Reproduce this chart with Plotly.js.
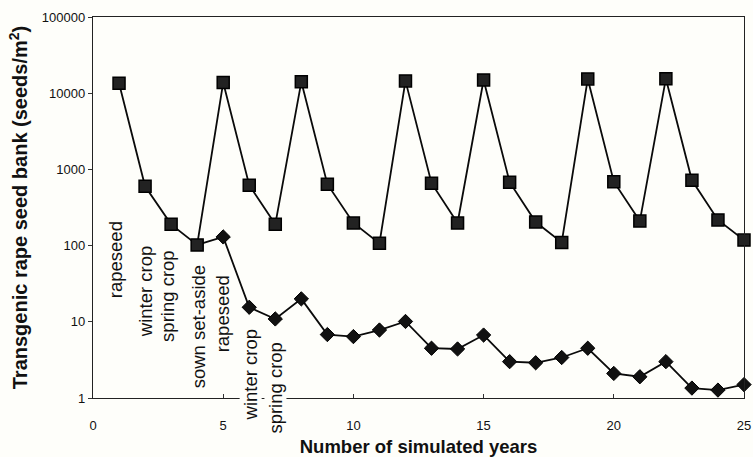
<!DOCTYPE html>
<html>
<head>
<meta charset="utf-8">
<script src="https://cdn.plot.ly/plotly-3.0.1.min.js"></script>
<style>html,body{margin:0;padding:0;background:#fefefa;}#chart{width:753px;height:457px;}</style>
</head>
<body>
<div id="chart"></div>
<script>
// Data
const yearsSquare = [1,2,3,4,5,6,7,8,9,10,11,12,13,14,15,16,17,18,19,20,21,22,23,24,25];
const seedsSquare = [13500,600,190,102,13800,620,190,14100,640,198,107,14500,660,198,14900,680,204,110,15400,690,210,15500,720,217,118];
const yearsDiamond = [4,5,6,7,8,9,10,11,12,13,14,15,16,17,18,19,20,21,22,23,24,25];
const seedsDiamond = [102,130,15.5,10.9,20,6.8,6.4,7.8,10.1,4.5,4.4,6.7,3.0,2.9,3.4,4.5,2.1,1.9,3.0,1.35,1.27,1.5];
const yTickVals = [1,10,100,1000,10000,100000];
const yTickText = ['1','10','100','1000','10000','100000'];
const xTickVals = [0,5,10,15,20,25];
const cropLabels = ['rapeseed','winter crop','spring crop','sown set-aside','rapeseed','winter crop','spring crop'];
const cropLabelX = [0.85,2.0,2.88,4.04,4.96,6.04,7.0];
const cropLabelLogY = [1.81,1.39,1.34,0.93,1.10,0.30,0.14];

const font = 'Arial, "Liberation Sans", sans-serif';

const diamondSymbols = seedsDiamond.map((v,i)=> i===0 ? 'square' : 'diamond');

const traces = [
  {
    x: yearsDiamond, y: seedsDiamond, type: 'scatter', mode: 'lines+markers',
    line: {color: '#0a0a0a', width: 1.8},
    marker: {symbol: diamondSymbols, size: 11, opacity: 1, color: '#111111', line: {color: '#000000', width: 1}},
    showlegend: false, hoverinfo: 'x+y', cliponaxis: false
  },
  {
    x: yearsSquare, y: seedsSquare, type: 'scatter', mode: 'lines+markers',
    line: {color: '#0a0a0a', width: 1.8},
    marker: {symbol: 'square', size: 12, opacity: 1, color: '#222222', line: {color: '#000000', width: 1.5}},
    showlegend: false, hoverinfo: 'x+y', cliponaxis: false
  },
  {
    x: [0], y: [1], xaxis: 'x2', type: 'scatter', mode: 'markers',
    marker: {size: 0, opacity: 0}, showlegend: false, hoverinfo: 'skip'
  }
];

const annotations = cropLabels.map((t,i)=>({
  text: t, x: cropLabelX[i], y: cropLabelLogY[i], xref: 'x', yref: 'y',
  showarrow: false, textangle: -90, font: {family: font, size: 18.5, color: '#111'},
  bgcolor: i >= 5 ? '#fefefa' : 'rgba(0,0,0,0)', borderpad: 0
}));

const layout = {
  width: 753, height: 457,
  margin: {l: 93, r: 9, t: 17, b: 59},
  paper_bgcolor: '#fefefa', plot_bgcolor: '#fefefa',
  font: {family: font, color: '#111'},
  xaxis: {
    range: [0, 25], tickvals: xTickVals, ticks: 'outside', ticklen: 15, tickwidth: 1, tickcolor: 'rgba(0,0,0,0)',
    showline: true, linecolor: '#222', linewidth: 1.2, mirror: true, showgrid: false, zeroline: false,
    tickfont: {family: font, size: 13, color: '#111'},
    title: {text: 'Number of simulated years', font: {family: font, size: 18.5, color: '#111', weight: 'bold'}, standoff: 9}
  },
  xaxis2: {
    overlaying: 'x', matches: 'x', range: [0, 25], tickvals: xTickVals, ticks: 'inside', ticklen: 4, tickwidth: 1, tickcolor: '#333',
    showticklabels: false, showline: false, showgrid: false, zeroline: false, side: 'bottom'
  },
  yaxis: {
    type: 'log', range: [0, 5], tickvals: yTickVals, ticktext: yTickText, ticks: 'outside', ticklen: 4, tickwidth: 1, tickcolor: '#333',
    showline: true, linecolor: '#222', linewidth: 1.2, mirror: true, showgrid: false, zeroline: false,
    tickfont: {family: font, size: 13, color: '#111'},
    title: {text: 'Transgenic rape seed bank (seeds/m<sup>2</sup>)', font: {family: font, size: 20, color: '#111', weight: 'bold'}, standoff: 8}
  },
  annotations: annotations,
  showlegend: false
};

Plotly.newPlot('chart', traces, layout, {displayModeBar: false, staticPlot: true});
</script>
</body>
</html>
